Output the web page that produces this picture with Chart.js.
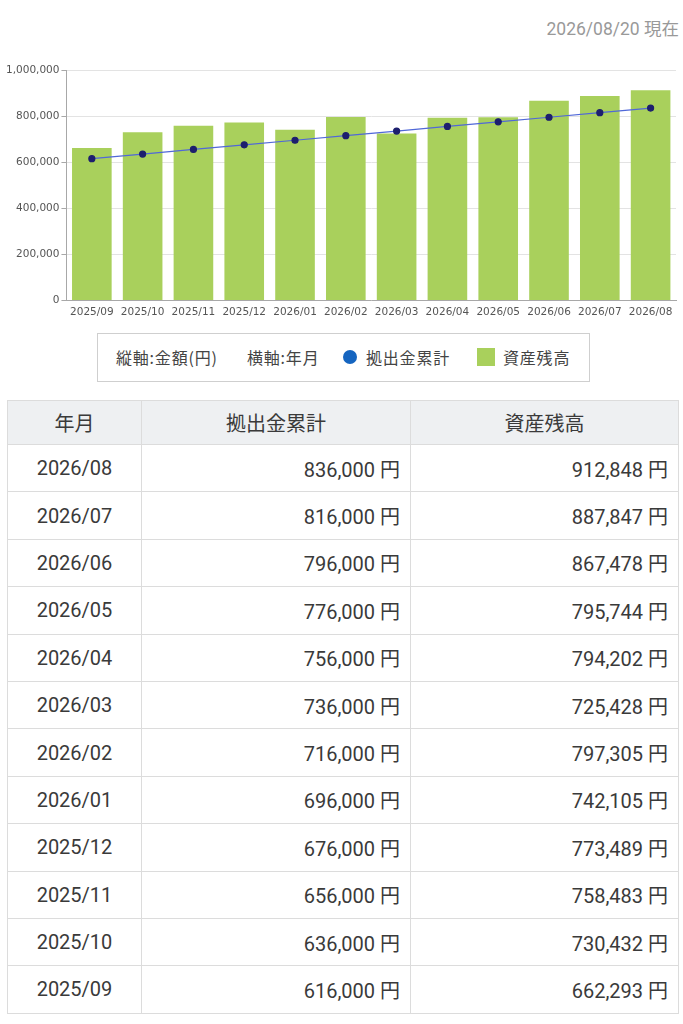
<!DOCTYPE html>
<html lang="ja">
<head>
<meta charset="utf-8">
<title>資産残高の推移</title>
<script src="https://cdn.jsdelivr.net/npm/chart.js@4.4.1/dist/chart.umd.min.js"></script>
<style>
  html, body { margin: 0; padding: 0; background: #fff; }
  body { width: 683px; height: 1024px; position: relative; overflow: hidden;
         font-family: Roboto, "Noto Sans CJK JP", sans-serif; }
  .asof { position: absolute; top: 15px; right: 4px; font-size: 17.5px; color: #999; }
  .chart-wrap { position: absolute; left: 0; top: 62px; width: 683px; height: 263px; }
  .legend { position: absolute; left: 97px; top: 333px; width: 493px; height: 49px;
            border: 1.5px solid #cfcfcf; box-sizing: border-box;
            font-family: "Noto Sans CJK JP", sans-serif; font-size: 16px; letter-spacing: 0.8px;
            color: #444; }
  .legend span { position: absolute; top: 12px; line-height: 22px; }
  .dot { width: 14px; height: 14px; border-radius: 50%; background: #1565c0; top: 16px !important; }
  .sq { width: 18px; height: 18px; background: #a9d05c; top: 14px !important; }
  table { position: absolute; left: 7px; top: 400px; width: 672px; border-collapse: collapse;
          font-size: 20px; color: #3a3a3a; }
  th, td { border: 1px solid #dcdcdc; height: 46.4px; padding: 0 10px; }
  th { background: #eef0f2; font-weight: normal; height: 43px; }
  td.m { text-align: center; }
  td.v { text-align: right; }
</style>
</head>
<body>
<div class="asof">2026/08/20 現在</div>
<div class="chart-wrap"><canvas id="myChart"></canvas></div>
<div class="legend">
  <span style="left:18px">縦軸:金額(円)</span>
  <span style="left:149px">横軸:年月</span>
  <span class="dot" style="left:245px"></span>
  <span style="left:268px">拠出金累計</span>
  <span class="sq" style="left:379px"></span>
  <span style="left:405px">資産残高</span>
</div>
<table id="tbl">
  <thead><tr><th style="width:113px">年月</th><th style="width:248px">拠出金累計</th><th>資産残高</th></tr></thead>
  <tbody></tbody>
</table>
<script>
// monthly contribution total vs. asset balance
const months = ["2025/09", "2025/10", "2025/11", "2025/12", "2026/01", "2026/02",
                "2026/03", "2026/04", "2026/05", "2026/06", "2026/07", "2026/08"];
const contrib = [616000, 636000, 656000, 676000, 696000, 716000,
                 736000, 756000, 776000, 796000, 816000, 836000];
const balance = [662293, 730432, 758483, 773489, 742105, 797305,
                 725428, 794202, 795744, 867478, 887847, 912848];
const yTicks = [0, 200000, 400000, 600000, 800000, 1000000];

const fmt = v => v.toLocaleString("en-US");

// table, newest month first
const tbody = document.querySelector("#tbl tbody");
for (let i = months.length - 1; i >= 0; i--) {
    const tr = document.createElement("tr");
    tr.innerHTML = "<td class='m'>" + months[i] + "</td>" +
                   "<td class='v'>" + fmt(contrib[i]) + " 円</td>" +
                   "<td class='v'>" + fmt(balance[i]) + " 円</td>";
    tbody.appendChild(tr);
}

const tickFont = { family: "DejaVu Sans", size: 10.5 };

const myChart = new Chart("myChart", {
  type: "bar",
  data: {
    labels: months,
    datasets: [
      {
        type: "line",
        label: "拠出金累計",
        data: contrib,
        borderColor: "#5068d8",
        borderWidth: 1.2,
        pointBackgroundColor: "#1d1f6e",
        pointBorderColor: "#1d1f6e",
        pointRadius: 3,
        tension: 0,
        order: 0,
      },
      {
        label: "資産残高",
        data: balance,
        backgroundColor: "#a9d05c",
        barPercentage: 0.78,
        categoryPercentage: 1,
        order: 1,
      },
    ],
  },
  options: {
    responsive: true,
    maintainAspectRatio: false,
    animation: false,
    layout: { padding: { left: 4, right: 7, top: 2 } },
    plugins: {
      legend: { display: false },
      tooltip: { enabled: false },
    },
    scales: {
      x: {
        grid: { display: false, drawTicks: false },
        border: { color: "#a8a8a8" },
        ticks: { font: tickFont, color: "#555", padding: 6, maxRotation: 0, autoSkip: false },
      },
      y: {
        min: 0,
        max: 1000000,
        afterBuildTicks: axis => { axis.ticks = yTicks.map(v => ({ value: v })); },
        grid: { color: "#e3e3e3", tickLength: 5, tickColor: "#a8a8a8" },
        border: { color: "#a8a8a8" },
        ticks: { font: tickFont, color: "#555", padding: 2, callback: v => fmt(v) },
      },
    },
  },
});
</script>
</body>
</html>
